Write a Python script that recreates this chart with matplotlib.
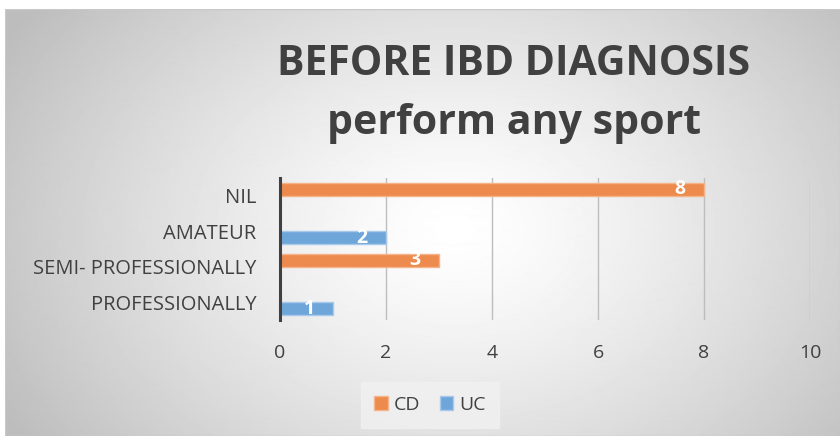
import numpy as np
import matplotlib
matplotlib.use("Agg")
import matplotlib.pyplot as plt
from matplotlib.patches import Rectangle, Patch

categories = ["NIL", "AMATEUR", "SEMI- PROFESSIONALLY", "PROFESSIONALLY"]
cd_values = [8, 0, 3, 0]
uc_values = [0, 2, 0, 1]
series_names = ["CD", "UC"]
x_ticks = [0, 2, 4, 6, 8, 10]
title = "BEFORE IBD DIAGNOSIS\nperform any sport"

CD_COLOR = "#ED8B4F"
UC_COLOR = "#6FA6DA"
CD_EDGE = "#F5B38A"
UC_EDGE = "#A9C9EA"
TXT = "#404040"

W, H = 840, 436
fig = plt.figure(figsize=(W / 100, H / 100), dpi=100)
fig.patch.set_facecolor("white")

# background radial gradient panel
bg = fig.add_axes([5 / W, 0, 1 - 5 / W, 1 - 9 / H])
bg.set_axis_off()
yy, xx = np.mgrid[0:427, 0:835]
cx, cy = 450, 220
r = np.sqrt(((xx - cx) / 520) ** 2 + ((yy - cy) / 380) ** 2)
val = 1.0 - 0.26 * np.clip(r, 0, 1) ** 1.3
bg.imshow(val, cmap="gray", vmin=0, vmax=1, aspect="auto", extent=[0, 1, 0, 1],
          interpolation="bilinear")
bg.add_patch(Rectangle((0, 0), 1, 1, transform=bg.transAxes, fill=False,
                       edgecolor="#c8c8c8", lw=1))

# main axes
x0, x1 = 280, 810
y_top, y_bot = 178, 320
ax = fig.add_axes([x0 / W, 1 - y_bot / H, (x1 - x0) / W, (y_bot - y_top) / H])
ax.patch.set_alpha(0)

y = np.arange(len(categories))
h = 0.37
bars_cd = ax.barh(y - h / 2, cd_values, height=h, color=CD_COLOR,
                  edgecolor=CD_EDGE, lw=1, zorder=3)
bars_uc = ax.barh(y + h / 2, uc_values, height=h, color=UC_COLOR,
                  edgecolor=UC_EDGE, lw=1, zorder=3)
for bars, vals in ((bars_cd, cd_values), (bars_uc, uc_values)):
    for b, v in zip(bars, vals):
        if v:
            ax.text(v - 0.45, b.get_y() + b.get_height() / 2, str(v),
                    ha="center", va="center", color="white", fontsize=14,
                    fontweight="bold", family="Open Sans", zorder=4)
        else:
            b.set_visible(False)

ax.set_xlim(0, 10)
ax.set_ylim(len(categories) - 0.5, -0.5)
ax.set_xticks(x_ticks)
ax.set_xticklabels([str(t) for t in x_ticks])
ax.set_yticks(y)
ax.set_yticklabels(categories)
ax.grid(axis="x", color="#BDBDBD", lw=1, zorder=0)
for s in ["top", "right", "bottom"]:
    ax.spines[s].set_visible(False)
ax.spines["left"].set_color("#404040")
ax.spines["left"].set_linewidth(2.2)
ax.spines["left"].set_zorder(5)
ax.tick_params(axis="both", length=0, colors=TXT)
ax.tick_params(axis="x", pad=17, labelsize=14)
ax.tick_params(axis="y", pad=17, labelsize=14.5)
for lbl in ax.get_xticklabels() + ax.get_yticklabels():
    lbl.set_family("Open Sans")
    lbl.set_color(TXT)

fig.text(514 / W, 1 - 94 / H, title, ha="center", va="center",
         fontsize=29.5, fontweight="bold", color=TXT, family="Open Sans",
         linespacing=1.55)

handles = [Patch(facecolor=CD_COLOR, edgecolor=CD_EDGE),
           Patch(facecolor=UC_COLOR, edgecolor=UC_EDGE)]
leg = fig.legend(handles=handles, labels=series_names,
                 loc="center", bbox_to_anchor=(430 / W, 1 - 405 / H), ncol=2,
                 frameon=True, handlelength=0.7, handleheight=0.7,
                 handletextpad=0.3, columnspacing=1.0, borderpad=0.7,
                 prop={"family": "Open Sans", "size": 14})
leg.get_frame().set_facecolor("#f1f1f1")
leg.get_frame().set_edgecolor("#f1f1f1")
leg.get_frame().set_boxstyle("square", pad=0)
for t in leg.get_texts():
    t.set_color(TXT)

fig.savefig("out.png", dpi=100)
